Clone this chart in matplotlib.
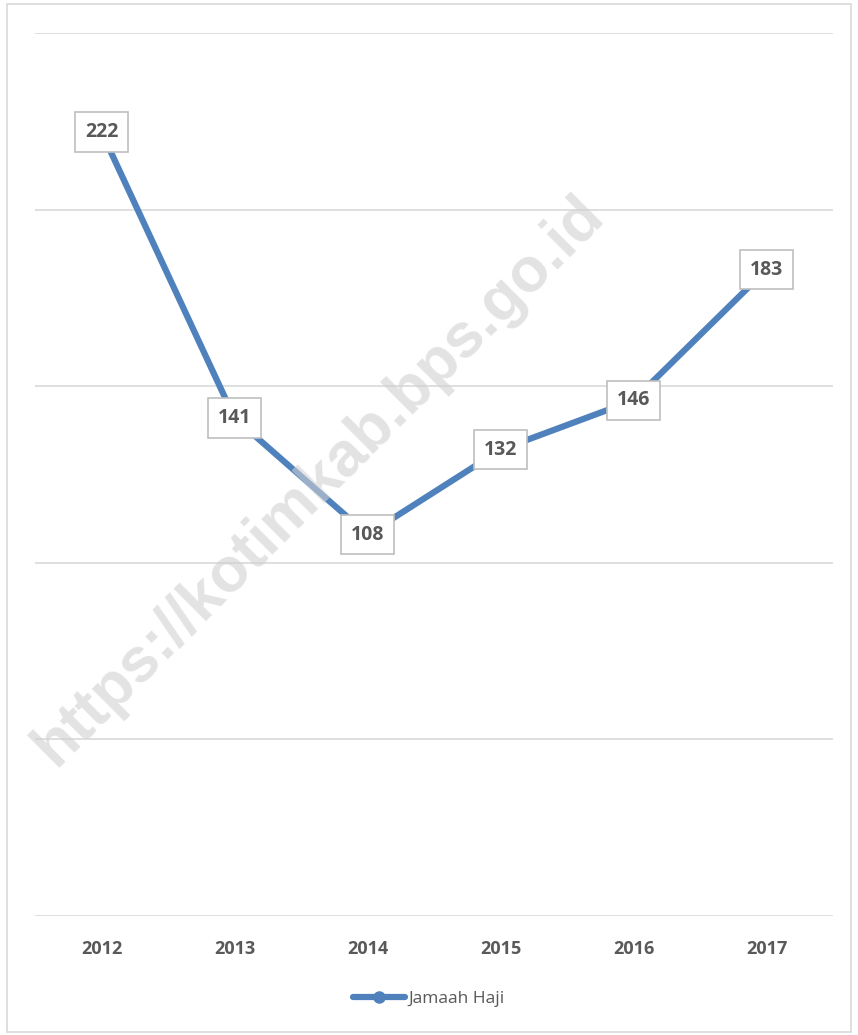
import matplotlib
matplotlib.use("Agg")
import matplotlib.pyplot as plt
from matplotlib.patches import Rectangle

years = ["2012", "2013", "2014", "2015", "2016", "2017"]
jamaah_haji = [222, 141, 108, 132, 146, 183]

plt.rcParams["font.family"] = ["Open Sans", "DejaVu Sans"]

fig = plt.figure(figsize=(8.58, 10.35), dpi=100)
ax = fig.add_axes([35 / 858, 119 / 1035, 798 / 858, 883 / 1035])

# outer border of the chart area
fig.patches.append(Rectangle((7 / 858, 3 / 1035), 844 / 858, 1028 / 1035,
                             transform=fig.transFigure, fill=False,
                             edgecolor="#d9d9d9", linewidth=1.2))

x = list(range(len(years)))
ax.plot(x, jamaah_haji, color="#4f81bd", linewidth=4.5, marker="o",
        markersize=8, solid_capstyle="round", label="Jamaah Haji", zorder=3)

for xi, v in zip(x, jamaah_haji):
    ax.text(xi, v, str(v), ha="center", va="center", fontsize=14,
            fontweight="bold", color="#595959", zorder=5,
            bbox=dict(boxstyle="square,pad=0.5", facecolor="white",
                      edgecolor="#bfbfbf", linewidth=1.2))

ax.set_xlim(-0.5, len(years) - 0.5)
ax.set_ylim(0, 250)
ax.set_yticks(range(0, 251, 50))
ax.yaxis.grid(True, color="#d9d9d9", linewidth=1.2)
ax.set_axisbelow(True)
ax.tick_params(axis="y", left=False, labelleft=False)
ax.tick_params(axis="x", bottom=False, pad=14)
ax.set_xticks(x)
ax.set_xticklabels(years, fontsize=13, fontweight="bold", color="#595959")
for s in ax.spines.values():
    s.set_visible(False)

# watermark
fig.text(0.372, 0.535, "https://kotimkab.bps.go.id", rotation=45,
         ha="center", va="center", fontsize=45, fontweight="bold",
         family=["Liberation Sans", "DejaVu Sans"],
         color="#d0d0d0", alpha=0.6, zorder=10)

fig.legend(loc="lower center", bbox_to_anchor=(0.5, 0.012), frameon=False,
           fontsize=12.5, handlelength=3, handletextpad=0.2,
           labelcolor="#595959")

fig.savefig("out.png", dpi=100, facecolor="white")
